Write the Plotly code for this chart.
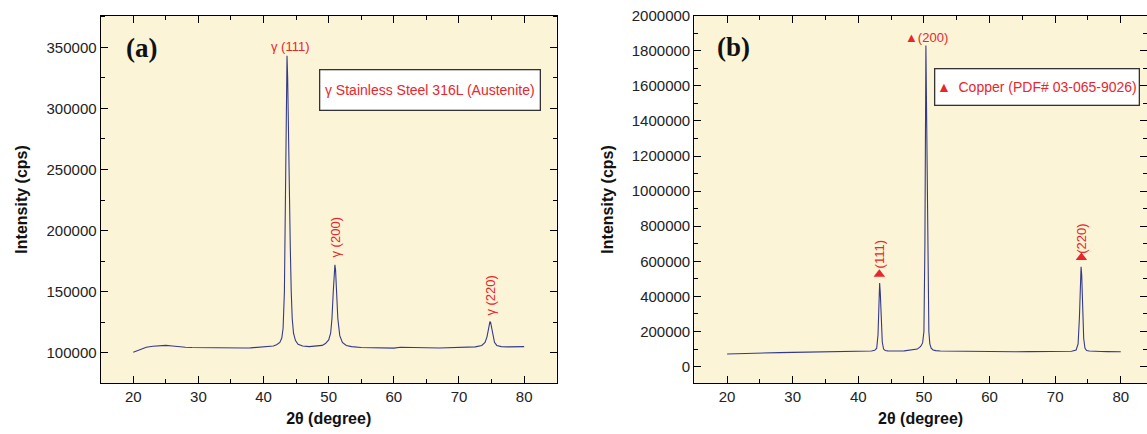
import plotly.graph_objects as go

# ---------------- data: panel (a) stainless steel 316L ----------------
two_theta_a = [20, 20.5, 21, 21.5, 22, 23, 24, 25, 26, 27, 28, 29, 30, 31, 32, 33, 34, 35, 36, 37,
               38, 39, 40, 41, 41.5, 42, 42.5, 42.8, 43.0, 43.2, 43.35, 43.5, 43.6, 43.7, 43.8, 43.9,
               44.0, 44.1, 44.25, 44.4, 44.6, 44.9, 45.3, 46, 47, 48, 49, 49.5, 50, 50.3, 50.5, 50.7,
               50.85, 50.95, 51.05, 51.2, 51.4, 51.7, 52.1, 52.7, 53.5, 55, 57, 59, 60, 61, 63, 65,
               67, 69, 71, 72.5, 73.5, 74.0, 74.3, 74.55, 74.75, 74.85, 75.0, 75.2, 75.45, 75.8,
               76.5, 77.5, 78.5, 79.5, 80]
intensity_a = [100500, 101500, 102500, 103500, 104500, 105300, 105800, 106000, 105500, 104800,
               104500, 104300, 104200, 104000, 104100, 103900, 103700, 103800, 103600, 103900,
               104000, 104300, 104600, 105000, 105500, 106500, 108500, 112000, 120000, 150000,
               230000, 320000, 343000, 325000, 280000, 270000, 230000, 187000, 150000, 128000,
               116000, 110000, 107000, 105500, 105000, 105200, 106000, 107500, 110500, 116000,
               128000, 150000, 168000, 172000, 168000, 152000, 128000, 114000, 108500, 106000,
               105000, 104300, 104000, 104200, 103800, 104500, 104000, 104100, 103900, 104000,
               104300, 104800, 106000, 108500, 113000, 120000, 125500, 125000, 121000, 114000,
               108500, 106000, 105000, 104800, 105000, 105200, 105000]

peak_labels_a = ["γ (111)", "γ (200)", "γ (220)"]
peak_label_x_a = [44.2, 51.0, 74.8]
peak_label_y_a = [351000, 194500, 147000]
peak_label_angle_a = [0, -90, -90]
legend_text_a = "γ Stainless Steel 316L (Austenite)"

# ---------------- data: panel (b) copper ----------------
two_theta_b = [20, 22, 24, 26, 28, 30, 32, 34, 36, 38, 40, 41, 42, 42.5, 42.8, 43.0, 43.15, 43.25,
               43.35, 43.5, 43.65, 43.85, 44.1, 44.5, 45, 46, 47, 48, 49, 49.5, 49.8, 50.0, 50.15,
               50.3, 50.4, 50.5, 50.6, 50.75, 50.9, 51.1, 51.4, 51.8, 52.5, 54, 56, 58, 60, 62, 64,
               66, 68, 70, 71.5, 72.5, 73.2, 73.5, 73.7, 73.85, 73.95, 74.05, 74.2, 74.35, 74.55,
               74.8, 75.2, 75.8, 77, 78, 79, 80]
intensity_b = [72000, 75000, 77000, 78500, 80000, 81000, 82000, 83000, 84000, 85000, 86000, 87000,
               89000, 93000, 105000, 180000, 400000, 476000, 420000, 250000, 140000, 100000, 92000,
               90000, 89000, 89000, 90000, 93000, 100000, 115000, 135000, 200000, 700000, 1830000,
               1500000, 1000000, 500000, 200000, 130000, 105000, 95000, 91000, 89000, 88000, 87000,
               86500, 86000, 85500, 85000, 85500, 85000, 85000, 86000, 88000, 95000, 130000, 280000,
               500000, 569000, 520000, 320000, 160000, 105000, 92000, 89000, 87000, 86000, 85500,
               86000, 85000]

peak_labels_b = ["(111)", "(220)"]
peak_label_x_b = [43.2, 74.0]
peak_label_y_b = [641000, 731000]
marker_x_b = [43.2, 74.0]
marker_y_b = [527000, 622000]
top_label_b = "▲(200)"
top_label_x_b = 50.4
top_label_y_b = 1876000
legend_text_b = "▲  Copper (PDF# 03-065-9026)"

# ---------------- styling ----------------
W, H = 1147, 434
RED = "#E8262B"
NAVY = "#343A8A"
BG = "#FCF4D6"
AX = "black"
FONT = "Liberation Sans"

fig = go.Figure()
fig.add_trace(go.Scatter(x=two_theta_a, y=intensity_a, mode="lines",
                         line=dict(color=NAVY, width=1.1), xaxis="x", yaxis="y", showlegend=False))
fig.add_trace(go.Scatter(x=two_theta_b, y=intensity_b, mode="lines",
                         line=dict(color=NAVY, width=1.1), xaxis="x2", yaxis="y2", showlegend=False))
fig.add_trace(go.Scatter(x=marker_x_b, y=marker_y_b, mode="markers",
                         marker=dict(symbol="triangle-up", size=10, color=RED),
                         xaxis="x2", yaxis="y2", showlegend=False))

ydom = [1 - 383.3 / H, 1 - 15.5 / H]

common_x = dict(showline=True, linecolor=AX, linewidth=1.2, mirror="allticks",
                ticks="inside", ticklen=7, tickcolor=AX,
                tickmode="linear", dtick=10, showgrid=False, zeroline=False, automargin=False,
                tickfont=dict(family=FONT, size=15, color="#222"),
                minor=dict(ticks="inside", ticklen=4, dtick=5),
                title=dict(text="<b>2θ (degree)</b>", font=dict(family=FONT, size=16, color="#111"),
                           standoff=8))
common_y = dict(showline=True, linecolor=AX, linewidth=1.2, mirror="allticks",
                ticks="inside", ticklen=7, tickcolor=AX,
                tickmode="linear", showgrid=False, zeroline=False, tickformat="d", automargin=False,
                tickfont=dict(family=FONT, size=15, color="#222"),
                title=dict(text="<b>Intensity (cps)</b>", font=dict(family=FONT, size=16, color="#111"),
                           standoff=14))

fig.update_layout(
    width=W, height=H,
    margin=dict(l=0, r=0, t=0, b=0),
    paper_bgcolor="white", plot_bgcolor=BG,
    xaxis=dict(common_x, domain=[100.7 / W, 556.7 / W], range=[15, 85], anchor="y"),
    yaxis=dict(common_y, domain=ydom, range=[75000, 376000], dtick=50000, anchor="x",
               minor=dict(ticks="inside", ticklen=4, dtick=25000)),
    xaxis2=dict(common_x, domain=[694.3 / W, 1.0], range=[15, 84], anchor="y2"),
    yaxis2=dict(common_y, domain=ydom, range=[-95000, 2000500], dtick=200000, anchor="x2",
                minor=dict(ticks="inside", ticklen=4, dtick=100000)),
    showlegend=False,
)

C = dict(xanchor="center", yanchor="middle", showarrow=False)
ann = []
# panel letters
ann.append(dict(C, text="<b>(a)</b>", x=141 / W, y=1 - 48 / H, xref="paper", yref="paper",
                font=dict(family="Liberation Serif", size=27, color="#111")))
ann.append(dict(C, text="<b>(b)</b>", x=733 / W, y=1 - 47 / H, xref="paper", yref="paper",
                font=dict(family="Liberation Serif", size=27, color="#111")))
# peak labels (a)
for t, px, py, ang in zip(peak_labels_a, peak_label_x_a, peak_label_y_a, peak_label_angle_a):
    ann.append(dict(C, text=t, x=px, y=py, xref="x", yref="y", textangle=ang,
                    font=dict(family=FONT, size=13, color=RED)))
# peak labels (b)
for t, px, py in zip(peak_labels_b, peak_label_x_b, peak_label_y_b):
    ann.append(dict(C, text=t, x=px, y=py, xref="x2", yref="y2", textangle=-90,
                    font=dict(family=FONT, size=13, color=RED)))
ann.append(dict(C, text=top_label_b, x=top_label_x_b, y=top_label_y_b, xref="x2", yref="y2",
                font=dict(family=FONT, size=13, color=RED)))
# legend boxes
ann.append(dict(C, text=legend_text_a, x=429.5 / W, y=1 - 90.3 / H, xref="paper", yref="paper",
                width=217, height=37, borderpad=1, borderwidth=1.3,
                bordercolor="#333", bgcolor="white",
                font=dict(family=FONT, size=14, color=RED)))
ann.append(dict(C, text=legend_text_b, x=1036.5 / W, y=1 - 87.2 / H, xref="paper", yref="paper",
                width=201, height=33, borderpad=1, borderwidth=1.3,
                bordercolor="#333", bgcolor="white",
                font=dict(family=FONT, size=14, color=RED)))
fig.update_layout(annotations=ann)

fig.write_html("out.html", config={"displayModeBar": False},
               post_script="document.body.style.margin='0';")
